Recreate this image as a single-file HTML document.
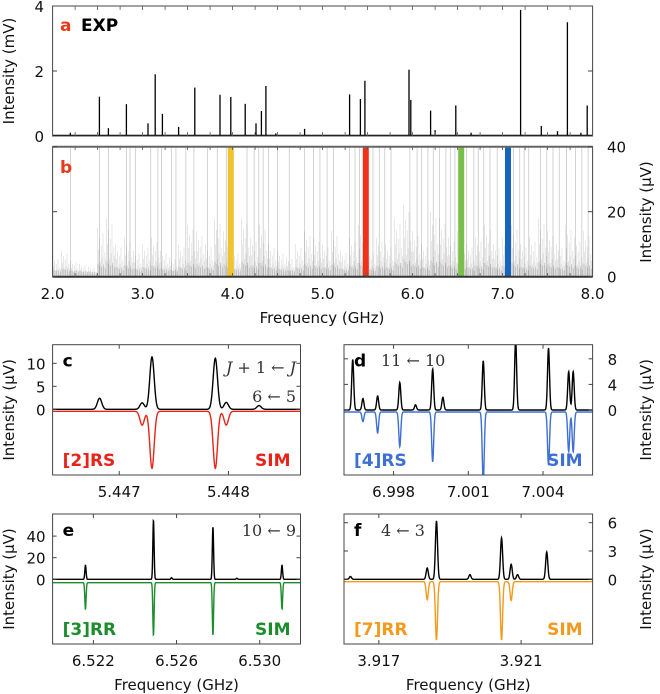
<!DOCTYPE html>
<html><head><meta charset="utf-8">
<style>
html,body{margin:0;padding:0;background:#fff;}
svg{display:block;font-family:"DejaVu Sans","Liberation Sans",sans-serif;}
.tk{font-size:15px;fill:#111;}
.ser{font-family:"DejaVu Serif","Liberation Serif",serif;font-size:16px;fill:#333;}
.bl{font-weight:bold;font-size:17px;}
</style></head>
<body>
<svg id="fig" width="660" height="694" viewBox="0 0 660 694" xmlns="http://www.w3.org/2000/svg"></svg>
<script>
// ---------- Panel a: experimental stick spectrum (GHz, mV)
const aFreq = [2.197,2.52,2.62,2.82,3.06,3.14,3.22,3.40,3.58,3.86,3.98,4.14,4.26,4.32,4.37,4.48,4.80,5.30,5.42,5.47,5.96,5.98,6.20,6.25,6.48,6.65,7.20,7.43,7.61,7.72,7.87,7.94];
const aInt  = [0.1,1.21,0.24,0.98,0.39,1.9,0.68,0.28,1.49,1.27,1.2,0.99,0.39,0.77,1.54,0.08,0.22,1.28,1.14,1.7,2.04,1.11,0.78,0.18,0.94,0.1,3.88,0.31,0.15,3.5,0.1,0.94];
const aTicks = [0,2,4];
// ---------- Panel b: simulated forest
const bTall = [2.20,2.52,2.62,2.82,2.86,2.92,3.09,3.17,3.21,3.32,3.37,3.48,3.57,3.72,3.83,3.93,4.16,4.24,4.29,4.34,4.40,4.50,4.63,4.80,4.90,4.97,5.05,5.12,5.30,5.36,5.41,5.56,5.63,5.69,5.76,5.97,6.05,6.10,6.17,6.23,6.30,6.37,6.42,6.47,6.60,6.68,6.73,6.79,6.86,6.94,7.12,7.19,7.24,7.29,7.42,7.49,7.56,7.63,7.71,7.81,7.88,7.95];
const bEnvFreq = [2.0,2.1,2.2,2.3,2.4,2.5,2.6,2.7,2.8,2.9,3.0,3.1,3.2,3.3,3.4,3.5,3.6,3.7,3.8,3.9,4.0,4.1,4.2,4.3,4.4,4.5,4.6,4.7,4.8,4.9,5.0,5.1,5.2,5.3,5.4,5.5,5.6,5.7,5.8,5.9,6.0,6.1,6.2,6.3,6.4,6.5,6.6,6.7,6.8,6.9,7.0,7.1,7.2,7.3,7.4,7.5,7.6,7.7,7.8,7.9];
const bEnv = [6,8,5,4,3,15,18,10,12,8,10,12,8,6,10,16,14,10,18,14,8,18,12,16,10,8,6,10,14,12,10,14,8,12,16,8,12,10,18,22,14,10,20,18,12,14,10,12,16,10,12,16,10,12,18,14,10,16,12,14];
const bBands = [3.98,5.48,6.54,7.06];
const bTicks = [0,20,40];
const xTicksMain = [2,3,4,5,6,7,8];
// ---------- Panel c
const cExpF=[5.44682,5.44721,5.44730,5.44788,5.44798,5.44828], cExpH=[2.4,1.4,11.4,11.1,1.5,0.8];
const cSimF=[5.44721,5.44730,5.44788,5.44798], cSimD=[3,12.4,12.4,3];
const cXT=[5.447,5.448], cYT=[0,5,10];
// ---------- Panel d
const dExpF=[6.99636,6.99677,6.99736,6.99825,6.99888,6.99957,6.99998,7.00160,7.00290,7.00422,7.00503,7.00521];
const dExpH=[7.9,1.8,2.2,4.3,0.8,6.4,2.0,7.7,11,9.7,6.0,6.0];
const dSimF=[6.99677,6.99736,6.99825,6.99957,7.00160,7.00422,7.00503,7.00521], dSimD=[1.5,3.3,5.4,7.8,11,8.3,6.2,6.2];
const dXT=[6.998,7.001,7.004], dYT=[0,4,8];
// ---------- Panel e
const eExpF=[6.52162,6.52489,6.52576,6.52775,6.5289,6.53107], eExpH=[13,55,1.5,48.7,1,13];
const eSimF=[6.52162,6.52489,6.52775,6.53107], eSimD=[24.6,49,49,24.6];
const eXT=[6.522,6.526,6.530], eYT=[0,20,40];
// ---------- Panel f
const fExpF=[3.91620,3.91836,3.91862,3.91956,3.92045,3.92072,3.92090,3.92172], fExpH=[0.3,1.2,6.2,0.5,4.4,1.6,0.5,2.9];
const fSimF=[3.91836,3.91862,3.92045,3.92072], fSimD=[1.9,6.2,6.2,2.0];
const fXT=[3.917,3.921], fYT=[0,3,6];

const NS="http://www.w3.org/2000/svg";
const svg=document.getElementById('fig');
function el(tag,attrs,parent,txt){const e=document.createElementNS(NS,tag);for(const k in attrs)e.setAttribute(k,attrs[k]);if(txt!==undefined)e.textContent=txt;(parent||svg).appendChild(e);return e;}
function lin(d0,d1,r0,r1){return v=>r0+(v-d0)/(d1-d0)*(r1-r0);}

// ===== Panel a & b
const X=lin(2,8,52.6,592.6);
const Ya=lin(0,4,136,6);
const Yb=lin(0,40,276.7,146.7);
const ga=el('g',{});


const gb=el('g',{});


el('defs',{},svg).innerHTML='<clipPath id="cb"><rect x="52.6" y="146.7" width="540" height="130"/></clipPath>';
const forest=el('g',{'clip-path':'url(#cb)'},gb);
bTall.forEach((f,i)=>{const l=el('line',{x1:X(f),x2:X(f),y1:Yb(0),y2:Yb(45),stroke:'#cfcfcf','stroke-width':0.9},forest);

});
const fr=[1,0.55,0.8,0.3,0.65,0.4,0.9,0.2,0.5,0.35];
bEnvFreq.forEach((f,i)=>{for(let k=0;k<fr.length;k++){const ff=f+k*0.01;const h=bEnv[i]*fr[k];
 el('line',{x1:X(ff),x2:X(ff),y1:Yb(0),y2:Yb(h),stroke:'#666','stroke-opacity':0.22,'stroke-width':0.7},forest);
 if(k%2===0)el('line',{x1:X(ff+0.005),x2:X(ff+0.005),y1:Yb(0),y2:Yb(h*0.2+1),stroke:'#444','stroke-opacity':0.3,'stroke-width':0.7},forest);}});
const bandCols=['#f2c230','#f0301a','#78c04a','#1565c0'];
bBands.forEach((f,i)=>{const r=el('rect',{x:X(f)-3,y:Yb(40),width:6,height:Yb(0)-Yb(40),fill:bandCols[i]},gb);

});
el('line',{x1:52.6,x2:592.6,y1:Ya(0)-0.5,y2:Ya(0)-0.5,stroke:'#000','stroke-width':1.5},ga);
aFreq.forEach((f,i)=>{const l=el('line',{x1:X(f),x2:X(f),y1:Ya(0),y2:Ya(aInt[i]),stroke:'#000','stroke-width':1.3},ga);

});
el('rect',{x:52.6,y:6,width:540,height:130,fill:'none',stroke:'#444','stroke-width':1},ga);
el('rect',{x:52.6,y:146.7,width:540,height:130,fill:'none',stroke:'#444','stroke-width':1},gb);
el('line',{x1:52.6,x2:592.6,y1:146.7,y2:146.7,stroke:'#666','stroke-width':2},gb);
el('line',{x1:52.6,x2:592.6,y1:276.7,y2:276.7,stroke:'#333','stroke-width':2},gb);
aTicks.forEach(t=>{const y=Ya(t);el('line',{x1:52.6,x2:57,y1:y,y2:y,stroke:'#444'},ga);el('line',{x1:588,x2:592.6,y1:y,y2:y,stroke:'#444'},ga);
 el('text',{x:44,y:y+6,'text-anchor':'end',class:'tk'},ga,String(t));});
bTicks.forEach(t=>{const y=Yb(t);el('line',{x1:52.6,x2:57,y1:y,y2:y,stroke:'#444'},gb);el('line',{x1:588,x2:592.6,y1:y,y2:y,stroke:'#444'},gb);
 el('text',{x:607,y:y+6,'text-anchor':'start',class:'tk'},gb,String(t));});
for(let v=2;v<=8.001;v+=0.25){const x=X(v);[[6,10],[132,136],[146.7,150],[273,276.7]].forEach(p=>el('line',{x1:x,x2:x,y1:p[0],y2:p[1],stroke:'#555','stroke-width':0.8}));}
xTicksMain.forEach(t=>el('text',{x:X(t),y:299,'text-anchor':'middle',class:'tk'},gb,t.toFixed(1)));
el('text',{x:322,y:323,'text-anchor':'middle',class:'tk'},gb,'Frequency (GHz)');
el('text',{x:0,y:0,class:'tk',transform:'translate(14,71) rotate(-90)','text-anchor':'middle'},ga,'Intensity (mV)');
el('text',{x:0,y:0,class:'tk',transform:'translate(651,212) rotate(-90)','text-anchor':'middle'},gb,'Intensity (µV)');
el('text',{x:60,y:31,class:'bl',fill:'#e8391d'},ga,'a');
el('text',{x:81,y:31,class:'bl',fill:'#000'},ga,'EXP');
el('text',{x:60,y:173,class:'bl',fill:'#e8391d'},gb,'b');

function panel(o){
 const g=el('g',{});
 
 
 const x0=o.x0,x1=o.x1,y0=o.y0,y1=o.y1;
 const sx=lin(o.f0,o.f1,x0,x1), sy=v=>o.zeroY-v*o.ppu;
 const cid='clip'+o.id;
 el('clipPath',{id:cid},g).innerHTML=`<rect x="${x0}" y="${y0}" width="${x1-x0}" height="${y1-y0}"/>`;
 const cg=el('g',{'clip-path':`url(#${cid})`},g);
 let pe='',ps='';
 for(let px=x0;px<=x1;px+=0.25){const f=o.f0+(px-x0)/(x1-x0)*(o.f1-o.f0);
  let e=0,s=0;o.ef.forEach((c,i)=>{e+=o.eh[i]*Math.exp(-((f-c)**2)/(2*o.sig*o.sig));});
  o.sf.forEach((c,i)=>{s+=o.sd[i]*Math.exp(-((f-c)**2)/(2*o.sig*o.sig));});
  pe+=(pe?'L':'M')+px.toFixed(2)+','+sy(e).toFixed(2);
  ps+=(ps?'L':'M')+px.toFixed(2)+','+(o.simY+s*o.ppu).toFixed(2);}
 const s=el('path',{d:ps,fill:'none',stroke:o.col,'stroke-width':1.4},cg);
 
 
 const e=el('path',{d:pe,fill:'none',stroke:'#000','stroke-width':1.4},cg);
 
 
 el('rect',{x:x0,y:y0,width:x1-x0,height:y1-y0,fill:'none',stroke:'#444','stroke-width':1},g);
 o.xt.forEach(t=>{const x=sx(t);el('line',{x1:x,x2:x,y1:y1,y2:y1-4,stroke:'#444'},g);el('line',{x1:x,x2:x,y1:y0,y2:y0+4,stroke:'#444'},g);
  el('text',{x:x,y:y1+22,'text-anchor':'middle',class:'tk'},g,t.toFixed(3));});
 o.yt.forEach(t=>{const y=sy(t);el('line',{x1:x0,x2:x0+4,y1:y,y2:y,stroke:'#444'},g);el('line',{x1:x1-4,x2:x1,y1:y,y2:y,stroke:'#444'},g);
  if(o.right)el('text',{x:x1+15,y:y+6,'text-anchor':'start',class:'tk'},g,String(t));
  else el('text',{x:x0-7,y:y+6,'text-anchor':'end',class:'tk'},g,String(t));});
 const ly=(y0+y1)/2;
 el('text',{x:0,y:0,class:'tk',transform:`translate(${o.right?651:14},${ly}) rotate(-90)`,'text-anchor':'middle'},g,'Intensity (µV)');
 el('text',{x:x0+10,y:y0+22,class:'bl',fill:'#000'},g,o.id);
 el('text',{x:x0+10,y:y1-9,class:'bl',fill:o.col},g,o.tag);
 el('text',{x:x1-10,y:y1-9,class:'bl',fill:o.col,'text-anchor':'end'},g,'SIM');
 o.notes.forEach(n=>{const t=el('text',{x:n[0],y:n[1],class:'ser','text-anchor':n[3]||'start'},g);t.innerHTML=n[2];});
 if(o.xlabel)el('text',{x:(x0+x1)/2,y:690,'text-anchor':'middle',class:'tk'},g,'Frequency (GHz)');
}
panel({id:'c',name:'panel-c',x0:52.6,x1:300.5,y0:344.7,y1:475,f0:5.44639,f1:5.44866,zeroY:409.3,ppu:4.6,simY:411.3,sig:0.00002,
 ef:cExpF,eh:cExpH,sf:cSimF,sd:cSimD,col:'#e8231a',tag:'[2]RS',xt:cXT,yt:cYT,right:false,
 notes:[[296,373,'<tspan font-style="italic">J</tspan> + 1 ← <tspan font-style="italic">J</tspan>','end'],[296,402,'6 ← 5','end']]});
panel({id:'d',name:'panel-d',x0:344,x1:592.6,y0:344.7,y1:475,f0:6.99601,f1:7.00599,zeroY:410,ppu:6.4,simY:412,sig:0.00004,
 ef:dExpF,eh:dExpH,sf:dSimF,sd:dSimD,col:'#3d6fd4',tag:'[4]RS',xt:dXT,yt:dYT,right:true,
 notes:[[381,366,'11 ← 10']]});
panel({id:'e',name:'panel-e',x0:52.6,x1:300.5,y0:514,y1:644,f0:6.52004,f1:6.53196,zeroY:579.3,ppu:1.08,simY:582.7,sig:0.00003,
 ef:eExpF,eh:eExpH,sf:eSimF,sd:eSimD,col:'#1c8c2c',tag:'[3]RR',xt:eXT,yt:eYT,right:false,xlabel:true,
 notes:[[296,536,'10 ← 9','end']]});
panel({id:'f',name:'panel-f',x0:344,x1:592.6,y0:514,y1:644,f0:3.91602,f1:3.92301,zeroY:579.3,ppu:9.43,simY:581.7,sig:0.00003,
 ef:fExpF,eh:fExpH,sf:fSimF,sd:fSimD,col:'#f39a1c',tag:'[7]RR',xt:fXT,yt:fYT,right:true,xlabel:true,
 notes:[[381,536,'4 ← 3']]});
</script>
</body></html>
